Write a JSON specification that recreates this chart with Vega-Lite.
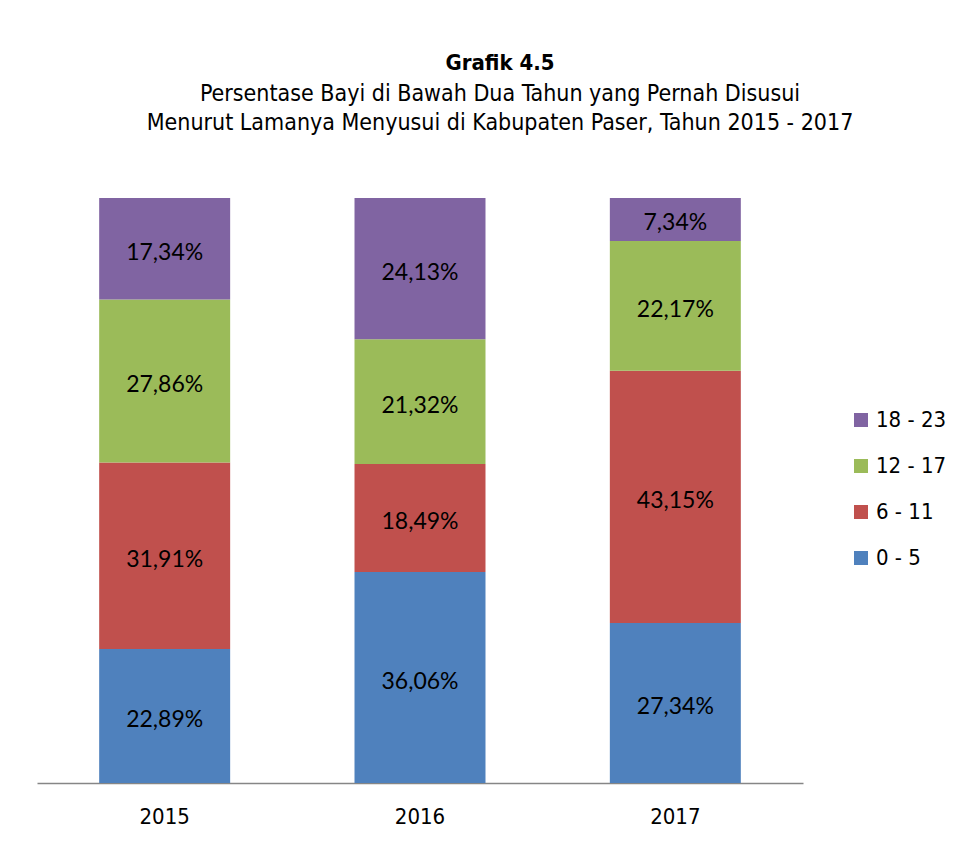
{
  "$schema": "https://vega.github.io/schema/vega-lite/v6.json",
  "autosize": {"type": "none"},
  "padding": {"left": 37, "top": 198, "right": 152, "bottom": 60},
  "width": 766,
  "height": 585,
  "background": "white",
  "config": {
    "view": {"stroke": null},
    "locale": {"number": {"decimal": ",", "thousands": ".", "grouping": [3], "currency": ["", ""]}}
  },
  "title": {
    "text": "Grafik 4.5",
    "subtitle": ["Persentase Bayi di Bawah Dua Tahun yang Pernah Disusui", "Menurut Lamanya Menyusui di Kabupaten Paser, Tahun 2015 - 2017"],
    "anchor": "middle",
    "frame": "group",
    "dx": 80,
    "offset": 62,
    "font": "DejaVu Sans Condensed, Liberation Sans",
    "fontSize": 22,
    "fontWeight": "bold",
    "color": "#000000",
    "subtitleFont": "DejaVu Sans Condensed, Liberation Sans",
    "subtitleFontSize": 23,
    "subtitleColor": "#000000",
    "subtitleLineHeight": 29,
    "subtitlePadding": 8
  },
  "data": {
    "values": [
      {"year": "2015", "group": "0 - 5", "k": 1, "v": 0.2289},
      {"year": "2015", "group": "6 - 11", "k": 2, "v": 0.3191},
      {"year": "2015", "group": "12 - 17", "k": 3, "v": 0.2786},
      {"year": "2015", "group": "18 - 23", "k": 4, "v": 0.1734},
      {"year": "2016", "group": "0 - 5", "k": 1, "v": 0.3606},
      {"year": "2016", "group": "6 - 11", "k": 2, "v": 0.1849},
      {"year": "2016", "group": "12 - 17", "k": 3, "v": 0.2132},
      {"year": "2016", "group": "18 - 23", "k": 4, "v": 0.2413},
      {"year": "2017", "group": "0 - 5", "k": 1, "v": 0.2734},
      {"year": "2017", "group": "6 - 11", "k": 2, "v": 0.4315},
      {"year": "2017", "group": "12 - 17", "k": 3, "v": 0.2217},
      {"year": "2017", "group": "18 - 23", "k": 4, "v": 0.0734}
    ]
  },
  "encoding": {
    "x": {
      "field": "year",
      "type": "nominal",
      "title": null,
      "scale": {"paddingInner": 0.487, "paddingOuter": 0.2435},
      "axis": {
        "orient": "bottom",
        "labelAngle": 0,
        "ticks": false,
        "domainColor": "#868686",
        "domainWidth": 1.5,
        "labelFont": "DejaVu Sans Condensed, Liberation Sans",
        "labelFontSize": 22,
        "labelColor": "#000000",
        "labelPadding": 23
      }
    },
    "y": {
      "field": "v",
      "type": "quantitative",
      "stack": "zero",
      "scale": {"domain": [0, 1], "nice": false},
      "axis": null
    },
    "order": {"field": "k", "type": "quantitative"}
  },
  "layer": [
    {
      "mark": {"type": "bar"},
      "encoding": {
        "color": {
          "field": "group",
          "type": "nominal",
          "scale": {
            "domain": ["18 - 23", "12 - 17", "6 - 11", "0 - 5"],
            "range": ["#8064A2", "#9BBB59", "#C0504D", "#4F81BD"]
          },
          "legend": {
            "title": null,
            "orient": "none",
            "legendX": 813,
            "legendY": 211,
            "symbolType": "square",
            "symbolSize": 196,
            "symbolStrokeWidth": 0,
            "labelFont": "DejaVu Sans Condensed, Liberation Sans",
            "labelFontSize": 22,
            "labelColor": "#000000",
            "labelOffset": 4,
            "rowPadding": 24
          }
        }
      }
    },
    {
      "mark": {"type": "text", "font": "Lato", "fontSize": 23, "color": "#000000", "dy": 4},
      "encoding": {
        "y": {"field": "v", "type": "quantitative", "stack": "zero", "bandPosition": 0.5},
        "text": {"field": "v", "type": "quantitative", "format": ".2%"}
      }
    }
  ]
}
